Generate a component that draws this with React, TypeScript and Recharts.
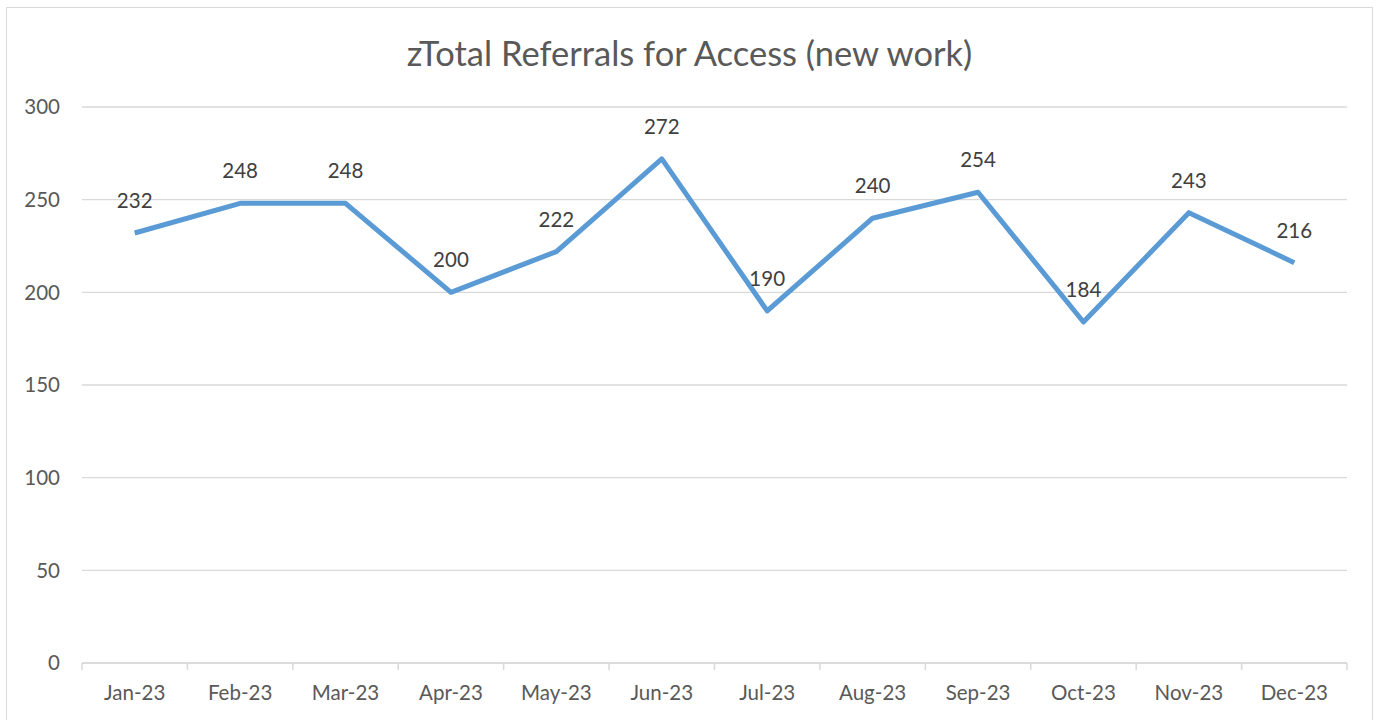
import React from "react";
import { LineChart, Line, XAxis, YAxis, CartesianGrid, LabelList } from "recharts";

const months = ["Jan-23", "Feb-23", "Mar-23", "Apr-23", "May-23", "Jun-23", "Jul-23", "Aug-23", "Sep-23", "Oct-23", "Nov-23", "Dec-23"];
const referrals = [232, 248, 248, 200, 222, 272, 190, 240, 254, 184, 243, 216];
const yTicks = [0, 50, 100, 150, 200, 250, 300];
const title = "zTotal Referrals for Access (new work)";

const data = months.map((m, i) => ({ idx: i, month: m, value: referrals[i] }));
const xTicks: number[] = [];
for (let i = 0; i <= months.length * 2; i++) xTicks.push(-0.5 + i * 0.5);

const FONT = "Lato, 'Open Sans', sans-serif";

const XTick = (props: any) => {
  const { x, y, payload } = props;
  const v = payload.value as number;
  if (Math.abs(v - Math.round(v)) > 0.01) {
    return <line x1={x} x2={x} y1={y} y2={y + 7} stroke="#d9d9d9" strokeWidth={1.5} />;
  }
  return (
    <text x={x} y={y + 37} textAnchor="middle" fill="#595959" fontSize={20.5} fontFamily={FONT}>
      {months[Math.round(v)]}
    </text>
  );
};

export default function App() {
  return (
    <div style={{ position: "absolute", left: 0, top: 0, width: 1379, height: 720, background: "#fff" }}>
      <div style={{ position: "absolute", left: 6, top: 7, width: 1367, height: 720, border: "1px solid #d9d9d9", boxSizing: "border-box" }} />
      <div style={{ position: "absolute", left: 0, top: 31, width: 1379, textAlign: "center", fontFamily: FONT, fontSize: 34.5, color: "#595959", lineHeight: "44px" }}>
        {title}
      </div>
      <div style={{ position: "absolute", left: 0, top: 0 }}>
        <LineChart width={1379} height={720} data={data} margin={{ top: 107, right: 32, bottom: 17, left: 0 }}>
          <CartesianGrid vertical={false} stroke="#d9d9d9" strokeWidth={1.3} />
          <XAxis
            dataKey="idx"
            type="number"
            domain={[-0.5, 11.5]}
            ticks={xTicks}
            interval={0}
            allowDataOverflow
            height={40}
            tickSize={0}
            tickMargin={0}
            tickLine={false}
            axisLine={{ stroke: "#d9d9d9", strokeWidth: 1.5 }}
            tick={<XTick />}
          />
          <YAxis
            width={82}
            domain={[0, 300]}
            ticks={yTicks}
            axisLine={false}
            tickLine={false}
            tickSize={0}
            tickMargin={22}
            tick={{ fill: "#595959", fontSize: 20.5, fontFamily: FONT }}
          />
          <Line
            type="linear"
            dataKey="value"
            stroke="#5b9bd5"
            strokeWidth={5}
            dot={false}
            isAnimationActive={false}
            strokeLinejoin="round"
          >
            <LabelList dataKey="value" position="top" offset={25} fill="#404040" fontSize={20.5} fontFamily={FONT} />
          </Line>
        </LineChart>
      </div>
    </div>
  );
}
